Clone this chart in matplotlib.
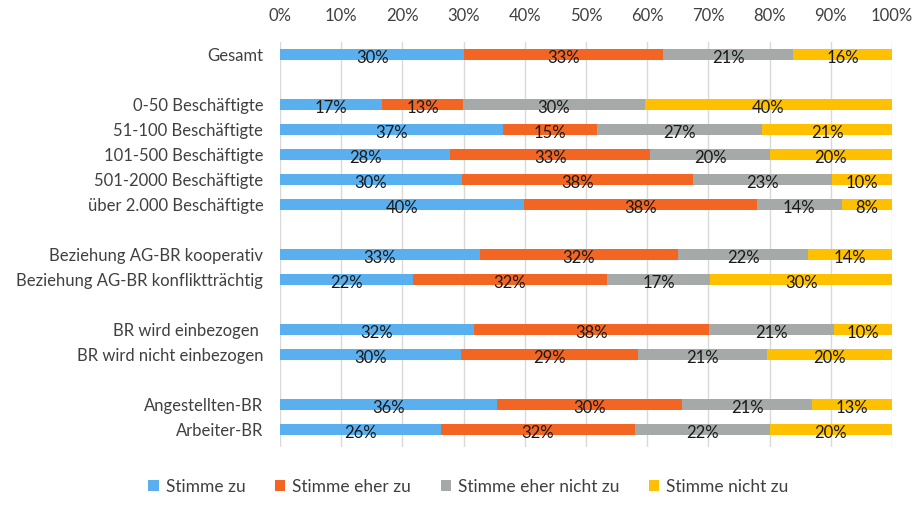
import numpy as np
import matplotlib.pyplot as plt

# rows of the chart (empty strings are spacer rows between groups)
categories = ["Gesamt", "",
              "0-50 Beschäftigte", "51-100 Beschäftigte", "101-500 Beschäftigte",
              "501-2000 Beschäftigte", "über 2.000 Beschäftigte", "",
              "Beziehung AG-BR kooperativ", "Beziehung AG-BR konfliktträchtig", "",
              "BR wird einbezogen ", "BR wird nicht einbezogen", "",
              "Angestellten-BR", "Arbeiter-BR"]

series_names = ["Stimme zu", "Stimme eher zu", "Stimme eher nicht zu", "Stimme nicht zu"]
colors = ["#5AAFEE", "#F26522", "#A5AAA8", "#FFC000"]

# shares in percent (None = spacer row)
stimme_zu = [30.1, None, 16.7, 36.4, 27.8, 29.7, 39.9, None, 32.7, 21.7, None, 31.7, 29.6, None, 35.5, 26.3]
eher_zu = [32.5, None, 13.2, 15.4, 32.7, 37.8, 38.0, None, 32.3, 31.7, None, 38.4, 28.9, None, 30.2, 31.7]
eher_nicht_zu = [21.2, None, 29.7, 27.0, 19.5, 22.7, 13.9, None, 21.3, 16.9, None, 20.4, 21.1, None, 21.2, 22.0]
nicht_zu = [16.2, None, 40.4, 21.2, 20.0, 9.8, 8.2, None, 13.7, 29.7, None, 9.5, 20.4, None, 13.1, 20.0]

# printed labels
labels_zu = [30, None, 17, 37, 28, 30, 40, None, 33, 22, None, 32, 30, None, 36, 26]
labels_eher_zu = [33, None, 13, 15, 33, 38, 38, None, 32, 32, None, 38, 29, None, 30, 32]
labels_eher_nicht = [21, None, 30, 27, 20, 23, 14, None, 22, 17, None, 21, 21, None, 21, 22]
labels_nicht = [16, None, 40, 21, 20, 10, 8, None, 14, 30, None, 10, 20, None, 13, 20]

series = [stimme_zu, eher_zu, eher_nicht_zu, nicht_zu]
series_labels = [labels_zu, labels_eher_zu, labels_eher_nicht, labels_nicht]

plt.rcParams['font.family'] = ['Lato', 'DejaVu Sans']

fig = plt.figure(figsize=(9.15, 5.08), dpi=100)
ax = fig.add_axes([0.306, 0.12, 0.669, 0.797])

y = np.arange(len(categories))
left = np.zeros(len(categories))
for name, vals, labs, col in zip(series_names, series, series_labels, colors):
    v = np.array([0 if x is None else x for x in vals], dtype=float)
    ax.barh(y, v, left=left, height=0.42, color=col, label=name, zorder=2)
    for i, (val, lab) in enumerate(zip(v, labs)):
        if lab is None:
            continue
        ax.text(left[i] + val / 2, y[i] + 0.12, f"{lab}%", ha="center", va="center",
                fontsize=12, color="#1a1a1a", zorder=3)
    left += v

ax.set_xlim(0, 100)
ax.set_ylim(len(categories) - 0.3, -0.5)
ax.set_yticks(y)
ax.set_yticklabels(categories, fontsize=12, color="#404040")
ax.set_xticks(np.arange(0, 101, 10))
ax.set_xticklabels([f"{t}%" for t in range(0, 101, 10)], fontsize=12, color="#404040")
ax.xaxis.tick_top()
ax.tick_params(length=0, pad=13)
ax.tick_params(axis="y", pad=12)
ax.grid(axis="x", color="#D9D9D9", linewidth=1, zorder=0)
for s in ax.spines.values():
    s.set_visible(False)

fig.legend(loc="lower center", bbox_to_anchor=(0.512, -0.005), ncol=4, frameon=False,
           fontsize=12.5, handlelength=0.6, handleheight=0.6, handletextpad=0.4,
           columnspacing=1.7, labelcolor="#404040")

fig.savefig("out.png", dpi=100)
